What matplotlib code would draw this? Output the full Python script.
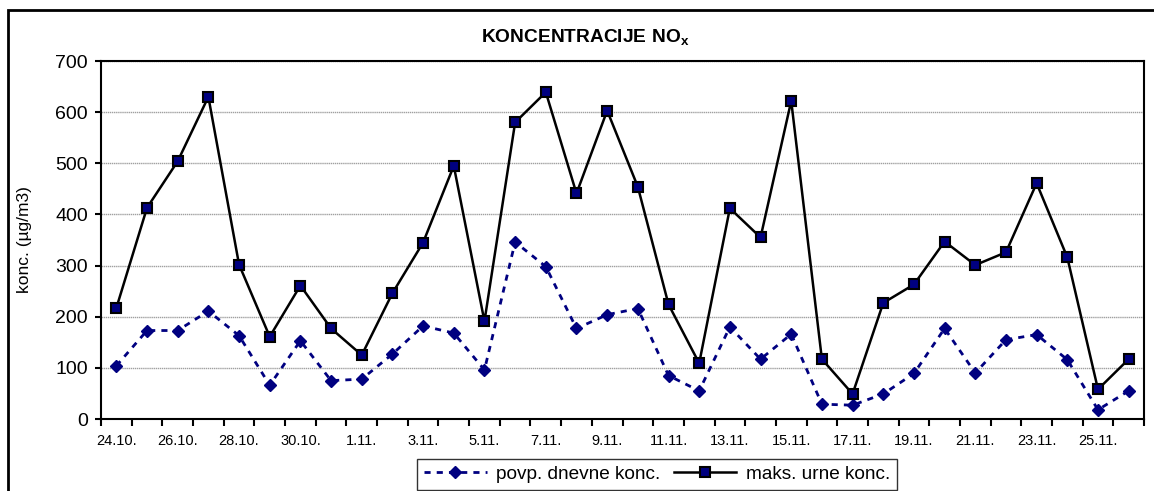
import pandas as pd
import matplotlib.pyplot as plt
from matplotlib.patches import Rectangle

plt.rcParams['font.family'] = ['Liberation Sans', 'DejaVu Sans']

# dnevi 24.10. - 26.11.
dates = pd.date_range('2008-10-24', '2008-11-26')
labels = ['%d.%d.' % (d.day, d.month) for d in dates]

# povp. dnevne konc. (ug/m3)
avg_conc = [104, 173, 173, 211, 163, 66, 153, 75, 78, 127,
            182, 168, 96, 346, 298, 177, 204, 216, 85, 55,
            180, 117, 166, 29, 27, 49, 89, 177, 90, 155,
            165, 116, 18, 55]
# maks. urne konc. (ug/m3)
max_conc = [217, 413, 504, 630, 302, 161, 261, 177, 125, 246,
            345, 495, 191, 580, 639, 441, 603, 454, 224, 109,
            412, 355, 622, 117, 49, 227, 263, 347, 301, 326,
            461, 316, 58, 117]

yticks = [0, 100, 200, 300, 400, 500, 600, 700]


def main():
	fig = plt.figure(figsize=(11.54, 4.91), dpi=100)
	ax = fig.add_axes([101 / 1154, 1 - 419 / 491, 1043 / 1154, 358 / 491])

	# okvir grafa (odrezan desno in spodaj)
	fig.patches.append(Rectangle((8 / 1154, -0.1), 1.2, 1 - 10 / 491 + 0.1,
								 transform=fig.transFigure, fill=False,
								 edgecolor='black', linewidth=2))

	x = list(range(len(labels)))
	ax.plot(x, avg_conc, color='#000080', linestyle=(0, (2.2, 2.2)), linewidth=2,
			marker='D', markersize=6.5, markerfacecolor='#000080', markeredgecolor='#000080',
			label='povp. dnevne konc.')
	ax.plot(x, max_conc, color='black', linewidth=1.8,
			marker='s', markersize=6.5, markerfacecolor='#000080', markeredgecolor='black',
			markeredgewidth=1.5, label='maks. urne konc.')

	ax.set_xlim(-0.5, len(labels) - 0.5)
	ax.set_ylim(0, 700)
	ax.set_yticks(yticks)
	ax.yaxis.grid(True, color='#a0a0a0', linewidth=1, linestyle=(0, (1, 0.5)))
	ax.set_axisbelow(True)

	ax.set_xticks([i - 0.5 for i in range(len(labels) + 1)])
	ax.set_xticklabels([])
	ax.set_xticks(x[::2], minor=True)
	ax.set_xticklabels(labels[::2], minor=True, fontsize=10.5)
	ax.tick_params(axis='x', which='major', length=5, width=1.5, direction='out')
	ax.tick_params(axis='x', which='minor', length=0, pad=11)
	ax.tick_params(axis='y', labelsize=14, length=4.5, width=1.5, pad=5)

	for s in ax.spines.values():
		s.set_linewidth(1.5)

	ax.set_ylabel('konc. (µg/m3)', fontsize=12.5)
	ax.yaxis.set_label_coords(-69 / 1043, 0.5)

	fig.text(586 / 1154, 1 - 37 / 491, r'$\mathregular{KONCENTRACIJE\ NO_x}$',
			 ha='center', va='center', fontsize=13.8, fontweight='bold')

	leg = fig.legend(loc='upper center', bbox_to_anchor=(657 / 1154, 1 - 459 / 491),
					 ncol=2, fontsize=13.7, frameon=True, fancybox=False, borderaxespad=0,
					 handlelength=3.3, borderpad=0.35, columnspacing=0.7, handletextpad=0.5)
	leg.get_frame().set_edgecolor('black')
	leg.get_frame().set_linewidth(1)

	plt.savefig('out.png', dpi=100)


if __name__ == '__main__':
	main()
